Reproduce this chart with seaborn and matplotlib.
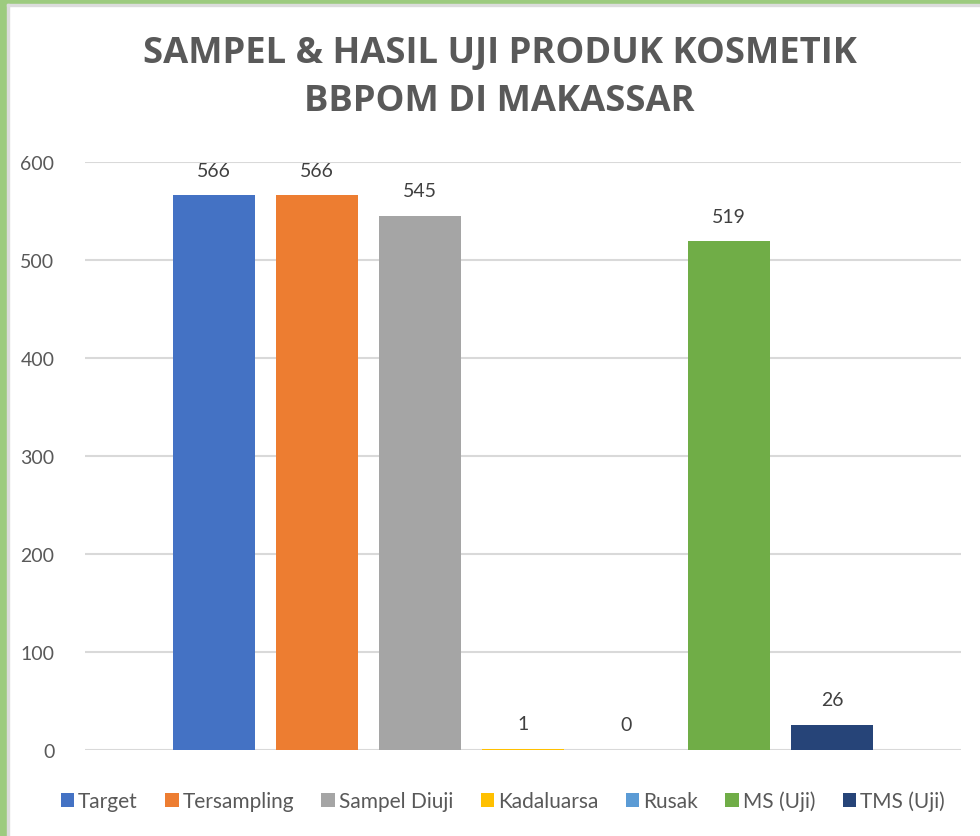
import seaborn as sns
import matplotlib.pyplot as plt
import pandas as pd
from matplotlib.patches import Rectangle

# Data
series = ['Target', 'Tersampling', 'Sampel Diuji', 'Kadaluarsa', 'Rusak', 'MS (Uji)', 'TMS (Uji)']
values = [566, 566, 545, 1, 0, 519, 26]
colors = ['#4472C4', '#ED7D31', '#A5A5A5', '#FFC000', '#5B9BD5', '#70AD47', '#264478']

df = pd.DataFrame({'series': series, 'value': values})

sns.set_style('white')
plt.rcParams['font.family'] = ['Lato', 'DejaVu Sans']

fig = plt.figure(figsize=(9.8, 8.37), dpi=100)
ax = fig.add_axes([0.0867, 0.1027, 0.8939, 0.7026])

sns.barplot(data=df, x='series', y='value', hue='series', palette=colors,
            width=0.8, saturation=1, linewidth=0, legend=True, ax=ax)

# value labels
for i, v in enumerate(values):
    ax.text(i, v + 17, f'{v}', ha='center', va='bottom', fontsize=14, color='#404040')

ax.set_xlim(-1.25, 7.25)
ax.set_ylim(0, 600)
ax.set_yticks(range(0, 601, 100))
ax.yaxis.grid(True, color='#d9d9d9', linewidth=1.5)
ax.set_axisbelow(True)
ax.tick_params(axis='y', labelsize=14, labelcolor='#595959', length=0, pad=22)
ax.set_xticks([])
ax.set_xlabel('')
ax.set_ylabel('')
for s in ax.spines.values():
    s.set_visible(False)

leg = ax.legend(loc='center', bbox_to_anchor=(0.513, 1 - 802 / 837), bbox_transform=fig.transFigure,
                ncol=7, frameon=False, fontsize=15, handlelength=0.65, handleheight=0.65,
                handletextpad=0.2, columnspacing=1.3)
for t in leg.get_texts():
    t.set_color('#595959')

fig.text(0.51, 1 - 78 / 837, 'SAMPEL & HASIL UJI PRODUK KOSMETIK\nBBPOM DI MAKASSAR',
         ha='center', va='center', fontsize=26.2, fontweight='bold', color='#595959',
         linespacing=1.42, family=['Open Sans', 'DejaVu Sans'])

# green frame at left and top
fig.patches.append(Rectangle((0, 0), 7 / 980, 1, transform=fig.transFigure, color='#9dcb7f', zorder=10))
fig.patches.append(Rectangle((0, 1 - 5 / 837), 1, 5 / 837, transform=fig.transFigure, color='#9dcb7f', zorder=10))
fig.patches.append(Rectangle((7 / 980, 0), 2 / 980, 1 - 5 / 837, transform=fig.transFigure, color='#dcdcdc', zorder=10))
fig.patches.append(Rectangle((7 / 980, 1 - 7 / 837), 1, 2 / 837, transform=fig.transFigure, color='#dcdcdc', zorder=10))

fig.savefig('out.png', dpi=100)
